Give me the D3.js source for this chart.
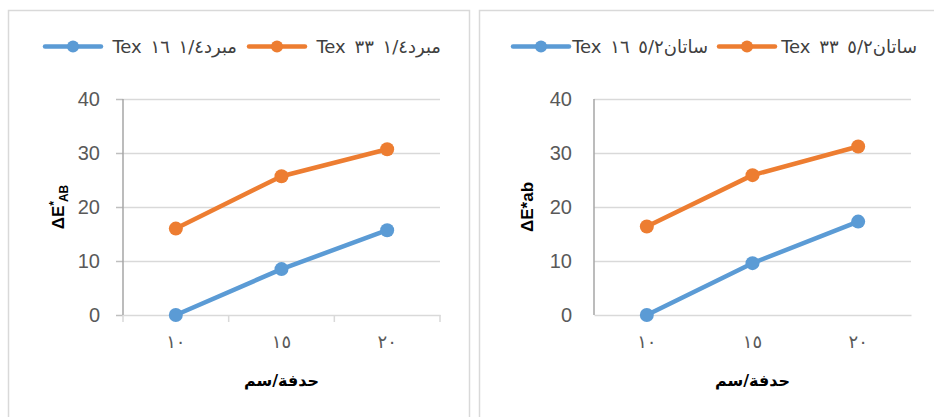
<!DOCTYPE html>
<html>
<head>
<meta charset="utf-8">
<script src="https://cdn.jsdelivr.net/npm/d3@7"></script>
<style>
  html, body { margin: 0; padding: 0; background: #ffffff; }
  svg { display: block; }
  text { font-family: "Liberation Sans", Arial, "DejaVu Sans", sans-serif; }
</style>
</head>
<body>
<svg id="chart" width="934" height="417"></svg>
<script>
// Colour difference versus distance, two fabric groups
const categories = ["١٠", "١٥", "٢٠"];
const yTicks = [0, 10, 20, 30, 40];
const xTitle = "حدفة/سم";

const coolerNames = ["مبرد١/٤ ١٦ Tex", "مبرد١/٤ ٣٣ Tex"];
const coolerTex16 = [0, 8.5, 15.7];
const coolerTex33 = [16, 25.7, 30.7];

const satinNames = ["ساتان٥/٢ ١٦ Tex", "ساتان٥/٢ ٣٣ Tex"];
const satinTex16 = [0, 9.6, 17.3];
const satinTex33 = [16.4, 25.9, 31.2];

const seriesColors = ["#5B9BD5", "#ED7D31"];

const svg = d3.select("#chart");

// Panel frames
svg.append("rect").attr("x", 8.5).attr("y", 10.5).attr("width", 461).attr("height", 420)
  .attr("fill", "none").attr("stroke", "#d9d9d9").attr("stroke-width", 1.5);
svg.append("rect").attr("x", 479.5).attr("y", 10.5).attr("width", 470).attr("height", 420)
  .attr("fill", "none").attr("stroke", "#d9d9d9").attr("stroke-width", 1.5);

function drawPanel(opt) {
  const g = svg.append("g");
  const x = d3.scaleBand().domain(categories).range([opt.x0, opt.x1]);
  const y = d3.scaleLinear().domain([0, 40]).range([315, 99]);

  // Horizontal gridlines
  g.append("g")
    .attr("transform", `translate(${opt.x0},0)`)
    .call(d3.axisLeft(y).tickValues(yTicks.filter(v => v > 0)).tickSize(-(opt.x1 - opt.x0)).tickFormat(""))
    .call(a => a.select(".domain").remove())
    .call(a => a.selectAll("line").attr("stroke", "#d9d9d9").attr("stroke-width", 1.5));

  // Y tick labels (and small outer ticks on the first panel)
  g.append("g")
    .attr("transform", `translate(${opt.x0},0)`)
    .call(d3.axisLeft(y).tickValues(yTicks).tickSize(opt.ticks ? 7 : 0).tickPadding(opt.ticks ? 16 : 22))
    .call(a => a.select(".domain").remove())
    .call(a => a.selectAll("line").attr("stroke", "#bfbfbf").attr("stroke-width", 1.5))
    .call(a => a.selectAll("text").attr("fill", "#595959")
      .style("font-size", "20px").style("font-family", "'Liberation Sans', Arial, sans-serif"));

  // X axis along zero
  g.append("g")
    .attr("transform", "translate(0,315)")
    .call(d3.axisBottom(x).tickSize(0).tickPadding(20))
    .call(a => a.select(".domain").attr("stroke", "#d9d9d9").attr("stroke-width", 1.5))
    .call(a => a.selectAll("text").attr("fill", "#595959")
      .style("font-size", "18px").style("letter-spacing", "3px")
      .style("font-family", "'DejaVu Sans', sans-serif"));
  if (opt.ticks) {
    const bw = x.bandwidth();
    g.selectAll(".xtick").data([0, 1, 2, 3]).join("line")
      .attr("x1", i => opt.x0 + i * bw).attr("x2", i => opt.x0 + i * bw)
      .attr("y1", 315).attr("y2", 322)
      .attr("stroke", "#d9d9d9").attr("stroke-width", 1.5);
  }

  // Vertical value axis
  g.append("line").attr("x1", opt.x0).attr("x2", opt.x0).attr("y1", y(40)).attr("y2", y(0))
    .attr("stroke", "#a6a6a6").attr("stroke-width", 1.5);

  // Series
  const cx = c => x(c) + x.bandwidth() / 2;
  const line = d3.line().x(d => cx(d.c)).y(d => y(d.v));
  opt.series.forEach((vals, si) => {
    const pts = vals.map((v, i) => ({ c: categories[i], v }));
    g.append("path").datum(pts).attr("d", line).attr("fill", "none")
      .attr("stroke", seriesColors[si]).attr("stroke-width", 4.5).attr("stroke-linejoin", "round");
    g.selectAll(null).data(pts).join("circle")
      .attr("cx", d => cx(d.c)).attr("cy", d => y(d.v)).attr("r", 7)
      .attr("fill", seriesColors[si]);
  });

  // Legend
  opt.names.forEach((name, si) => {
    const lx = opt.legendX[si];
    g.append("line").attr("x1", lx).attr("x2", lx + 56).attr("y1", 46.5).attr("y2", 46.5)
      .attr("stroke", seriesColors[si]).attr("stroke-width", 4.5).attr("stroke-linecap", "round");
    g.append("circle").attr("cx", lx + 28).attr("cy", 46.5).attr("r", 6).attr("fill", seriesColors[si]);
    g.append("text").attr("x", opt.legendTextEnd[si]).attr("y", 53)
      .attr("direction", "rtl").attr("text-anchor", "start")
      .attr("fill", "#404040").style("font-size", "18px").style("word-spacing", "3px")
      .style("font-family", "'DejaVu Sans', sans-serif")
      .text(name);
  });

  // Axis titles
  g.append("text").attr("x", (opt.x0 + opt.x1) / 2).attr("y", 386)
    .attr("text-anchor", "middle").attr("fill", "#000")
    .style("font-size", "16px").style("font-weight", "bold")
    .style("font-family", "'DejaVu Sans', sans-serif")
    .text(xTitle);

  const yt = g.append("text")
    .attr("transform", `translate(${opt.yTitleX},207) rotate(-90)`)
    .attr("text-anchor", "middle").attr("fill", "#000")
    .style("font-size", "17px").style("font-weight", "bold");
  opt.yTitle(yt);
}

drawPanel({
  x0: 123, x1: 440, ticks: true,
  series: [coolerTex16, coolerTex33], names: coolerNames,
  legendX: [45, 249], legendTextEnd: [237, 441],
  yTitleX: 64,
  yTitle: t => {
    t.append("tspan").text("ΔE");
    t.append("tspan").attr("dy", -6).style("font-size", "12px").text("*");
    t.append("tspan").attr("dy", 10).attr("dx", -1).style("font-size", "12px").text("AB");
  }
});

drawPanel({
  x0: 594, x1: 911, ticks: false,
  series: [satinTex16, satinTex33], names: satinNames,
  legendX: [513, 719], legendTextEnd: [708, 917],
  yTitleX: 533,
  yTitle: t => { t.text("ΔE*ab"); }
});
</script>
</body>
</html>
